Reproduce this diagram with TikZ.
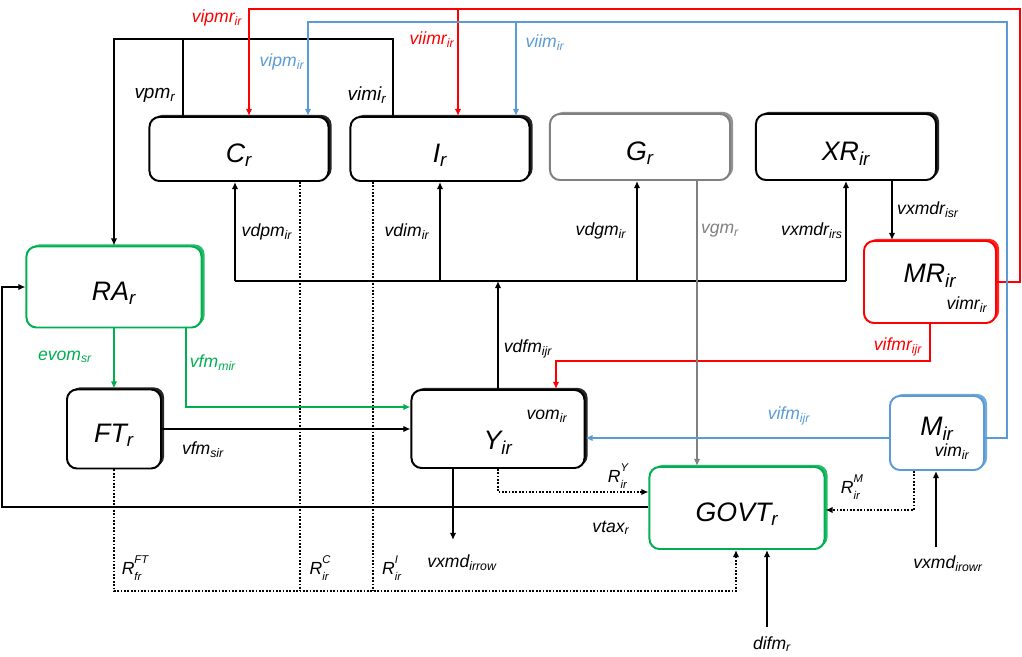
\documentclass[tikz,border=0pt]{standalone}
\usepackage{fontspec}
\setmainfont{Liberation Sans}
\usetikzlibrary{arrows.meta, shadows}
\definecolor{cgreen}{RGB}{0,176,80}
\definecolor{cblue}{RGB}{91,155,213}
\definecolor{cred}{RGB}{255,0,0}
\definecolor{cgray}{RGB}{128,128,128}
\newcommand{\vs}[2]{#1\textsubscript{#2}}
\newcommand{\rs}[2]{R\rlap{\raisebox{-0.32em}{\fontsize{8}{8}\selectfont #1}}\raisebox{0.62em}{\fontsize{8}{8}\selectfont #2}}

\begin{document}
\begin{tikzpicture}[x=0.025cm, y=-0.025cm, line width=1pt, >={Latex[length=5pt, width=4.5pt]},
        box/.style={draw=#1, fill=white, line width=1.4pt, rounded corners=0.25cm, inner sep=0pt,
            text height=0.68cm, text depth=0pt, font=\fontsize{19}{22}\selectfont\itshape,
            general shadow={fill=#1!85, shadow xshift=2.2pt, shadow yshift=1.5pt}},
        lbl/.style={inner sep=0pt, font=\fontsize{12.5}{15}\selectfont\itshape},
        dotln/.style={dash pattern=on 1.2pt off 1.2pt}]
        \useasboundingbox (0,0) rectangle (1022,657);

        \node[box=black, minimum width=4.475cm, minimum height=1.6cm] (C) at (239,149) {\vs{C}{r}};
        \node[box=black, minimum width=4.475cm, minimum height=1.6cm] (I) at (440,149) {\vs{I}{r}};
        \node[box=cgray, minimum width=4.5cm, minimum height=1.65cm] (G) at (640,147) {\vs{G}{r}};
        \node[box=black, minimum width=4.5cm, minimum height=1.65cm] (XR) at (846,147) {\vs{XR}{ir}};
        \node[box=cgreen, minimum width=4.375cm, minimum height=2.025cm] (RA) at (114,287) {\vs{RA}{r}};
        \node[box=black, minimum width=2.35cm, minimum height=1.975cm] (FT) at (114,429) {\vs{FT}{r}};
        \node[box=black, minimum width=4.325cm, minimum height=1.95cm, text height=1.03cm] (Y) at (498,429) {\vs{Y}{ir}};
        \node[box=cred, minimum width=3.3cm, minimum height=2.05cm, text height=0.5cm, text depth=0.47cm] (MR) at (930,282) {\vs{MR}{ir}};
        \node[box=cblue, minimum width=2.35cm, minimum height=1.85cm, text height=0.5cm, text depth=0.37cm] (M) at (937,433) {\vs{M}{ir}};
        \node[box=cgreen, minimum width=4.375cm, minimum height=2.05cm] (GOVT) at (737,508) {\vs{GOVT}{r}};

        \draw[->] (I.north -| 393,0) -- (393,39) -- (114,39) -- (RA.north);
        \draw (183,39) -- (C.north -| 183,0);
        \draw[cred, ->] (MR.east) -| (1020,9) -| (C.north -| 249,0);
        \draw[cred, ->] (458,9) -- (I.north -| 458,0);
        \draw[cblue, ->] (M.east |- 0,438) -| (1007,22) -| (C.north -| 308,0);
        \draw[cblue, ->] (516,22) -- (I.north -| 516,0);

        \draw (235,281) -- (846,281);
        \draw[->] (235,281) -- (C.south -| 235,0);
        \draw[->] (440,281) -- (I.south -| 440,0);
        \draw[->] (637,281) -- (G.south -| 637,0);
        \draw[->] (846,281) -- (XR.south -| 846,0);
        \draw[->] (Y.north) -- (Y.north |- 0,281);
        \draw[->] (XR.south -| 892,0) -- (MR.north -| 892,0);
        \draw[cred, ->] (MR.south) |- (556,361) -- (Y.north -| 556,0);
        \draw[cgray, ->] (G.south -| 697,0) -- (GOVT.north -| 697,0);
        \draw[cblue, ->] (M.west |- 0,438) -- (Y.east |- 0,438);

        \path[cgreen, ->] (RA) edge (FT);
        \draw[cgreen, ->] (RA.south -| 186,0) |- (Y.west |- 0,407);
        \draw[->] (FT.east) -- (Y.west |- FT.east);
        \draw[->] (Y.south -| 453,0) -- (453,540);
        \draw[dotln, ->] (Y.south) |- (GOVT.west |- 0,492);
        \draw[->] (GOVT.west |- 0,507) -| (2,287) -- (RA.west);
        \draw[dotln, ->] (FT.south) |- (736,591) -- (GOVT.south -| 736,0);
        \draw[dotln] (C.south -| 300,0) -- (300,591);
        \draw[dotln] (I.south -| 373,0) -- (373,591);
        \draw[dotln, ->] (M.south -| 914,0) |- (GOVT.east |- 0,510);
        \draw[->] (936,547) -- (M.south -| 936,0);
        \draw[->] (767,627) -- (GOVT.south -| 767,0);

        \node[lbl, font=\fontsize{13.5}{16}\selectfont\itshape] (vpm) at (155,95) {\vs{vpm}{r}};
        \node[lbl, font=\fontsize{13.5}{16}\selectfont\itshape] (vimi) at (367,95) {\vs{vimi}{r}};
        \node[lbl, text=cred] (vipmr) at (217,18) {\vs{vipmr}{ir}};
        \node[lbl, text=cblue] (vipm) at (282,62) {\vs{vipm}{ir}};
        \node[lbl, text=cred] (viimr) at (432,40) {\vs{viimr}{ir}};
        \node[lbl, text=cblue] (viim) at (545,43) {\vs{viim}{ir}};
        \node[lbl] (vdpm) at (267,232) {\vs{vdpm}{ir}};
        \node[lbl] (vdim) at (407,232) {\vs{vdim}{ir}};
        \node[lbl] (vdgm) at (601,231) {\vs{vdgm}{ir}};
        \node[lbl, text=cgray] (vgm) at (720,231) {\vs{vgm}{r}};
        \node[lbl] (vxmdrirs) at (812,231) {\vs{vxmdr}{irs}};
        \node[lbl] (vxmdrisr) at (928,210) {\vs{vxmdr}{isr}};
        \node[lbl, text=cgreen] (evom) at (65,357) {\vs{evom}{sr}};
        \node[lbl, text=cgreen] (vfmmir) at (213,363) {\vs{vfm}{mir}};
        \node[lbl] (vfmsir) at (203,450) {\vs{vfm}{sir}};
        \node[lbl] (vdfm) at (528,349) {\vs{vdfm}{ijr}};
        \node[lbl, text=cred] (vifmr) at (898,347) {\vs{vifmr}{ijr}};
        \node[lbl, text=cblue] (vifm) at (789,416) {\vs{vifm}{ijr}};
        \node[lbl] (vom) at (547,416) {\vs{vom}{ir}};
        \node[lbl] (vimr) at (967,305) {\vs{vimr}{ir}};
        \node[lbl] (vim) at (952,452) {\vs{vim}{ir}};
        \node[lbl] (RY) at (618,476) {\rs{ir}{Y}};
        \node[lbl] (RM) at (852,487) {\rs{ir}{M}};
        \node[lbl] (vtax) at (611,528) {\vs{vtax}{r}};
        \node[lbl] (RFT) at (135,568) {\rs{fr}{FT}};
        \node[lbl] (RC) at (320,568) {\rs{ir}{C}};
        \node[lbl] (RI) at (390,568) {\rs{ir}{I}};
        \node[lbl] (vxmdrow) at (462,563) {\vs{vxmd}{irrow}};
        \node[lbl] (vxmdrowr) at (948,564) {\vs{vxmd}{irowr}};
        \node[lbl] (difm) at (772,644) {\vs{difm}{r}};
    \end{tikzpicture}
\end{document}
